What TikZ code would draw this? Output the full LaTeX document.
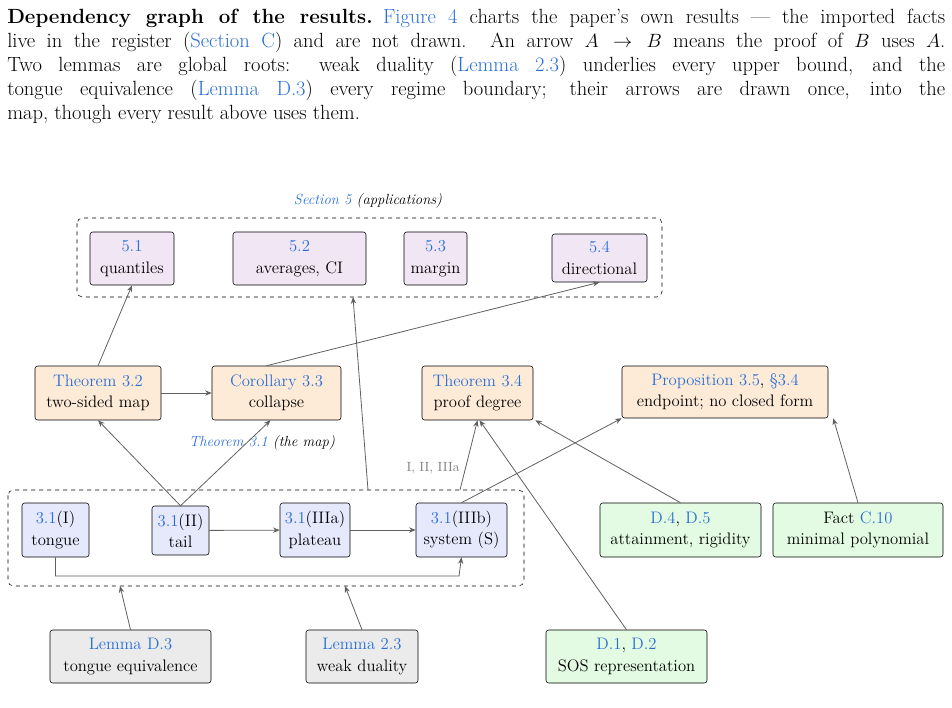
\documentclass[tikz,border=0pt]{standalone}
\usepackage{xcolor}
\usetikzlibrary{arrows.meta,calc}
\definecolor{lk}{HTML}{2A6FD6}
\definecolor{cpur}{HTML}{F1E6F3}
\definecolor{cora}{HTML}{FDEBD8}
\definecolor{cblu}{HTML}{E6E8FC}
\definecolor{cgre}{HTML}{E3FBE2}
\definecolor{cgra}{HTML}{EBEBEB}
\definecolor{arr}{HTML}{606060}
\newcommand{\lnk}[1]{\textcolor{lk}{#1}}
\begin{document}
\begin{tikzpicture}[x=0.75pt,y=-0.75pt,
  bx/.style={draw=black,rounded corners=2pt,align=center,inner sep=1pt,font=\fontsize{12.5}{16}\selectfont},
  pur/.style={bx,fill=cpur},ora/.style={bx,fill=cora},blu/.style={bx,fill=cblu},
  gre/.style={bx,fill=cgre},gra/.style={bx,fill=cgra},
  grp/.style={draw=black,dashed,rounded corners=4pt},
  ar/.style={draw=arr,-{Stealth[length=5pt,width=4pt]},semithick},
  lab/.style={font=\fontsize{11}{12}\selectfont\itshape}]
\useasboundingbox (0,0) rectangle (952,707);
\node[anchor=north west,text width=938*0.75pt,align=justify,inner sep=0pt,font=\fontsize{15.4}{18}\selectfont] (para) at (7,9)
{\textbf{Dependency graph of the results.}\enskip \lnk{Figure 4} charts the paper's own results --- the imported facts\linebreak live in the register (\lnk{Section C}) and are not drawn. An arrow $A\to B$ means the proof of $B$ uses $A$.\linebreak Two lemmas are global roots: weak duality (\lnk{Lemma 2.3}) underlies every upper bound, and the\linebreak tongue equivalence (\lnk{Lemma D.3}) every regime boundary; their arrows are drawn once, into the\linebreak map, though every result above uses them.};
% section 5
\draw[grp] (77,218) rectangle (662,297);
\coordinate (s5a) at (353,297);
\node[lab] (s5l) at (368,201) {\lnk{Section 5} (applications)};
\node[pur,minimum width=84*0.75pt,minimum height=53*0.75pt] (a1) at (132,258.5) {\lnk{5.1}\\quantiles};
\node[pur,minimum width=133*0.75pt,minimum height=53*0.75pt] (a2) at (299.5,258.5) {\lnk{5.2}\\averages, CI};
\node[pur,minimum width=63*0.75pt,minimum height=53*0.75pt] (a3) at (435.5,258.5) {\lnk{5.3}\\margin};
\node[pur,minimum width=95*0.75pt,minimum height=48*0.75pt] (a4) at (599.5,258) {\lnk{5.4}\\directional};
% middle row
\node[ora,minimum width=126*0.75pt,minimum height=54*0.75pt] (t32) at (98,393) {\lnk{Theorem 3.2}\\two-sided map};
\node[ora,minimum width=129*0.75pt,minimum height=54*0.75pt] (c33) at (276.5,393) {\lnk{Corollary 3.3}\\collapse};
\node[ora,minimum width=111*0.75pt,minimum height=54*0.75pt] (t34) at (477.5,393) {\lnk{Theorem 3.4}\\proof degree};
\node[ora,minimum width=206*0.75pt,minimum height=52*0.75pt] (p35) at (725,392) {\lnk{Proposition 3.5}, \lnk{\S3.4}\\endpoint; no closed form};
% theorem 3.1 group
\draw[grp] (8,490) rectangle (524,586);
\coordinate (g1) at (368,490);
\coordinate (g2) at (460,490);
\coordinate (g3) at (120,586);
\coordinate (g4) at (345,586);
\node[lab] (t31l) at (262,443) {\lnk{Theorem 3.1} (the map)};
\node[font=\fontsize{10}{11}\selectfont,text=gray] (iii) at (433,468) {I, II, IIIa};
\node[blu,minimum width=67*0.75pt,minimum height=54*0.75pt] (r1) at (55.5,530) {\lnk{3.1}(I)\\tongue};
\node[blu,minimum width=57*0.75pt,minimum height=49*0.75pt] (r2) at (180.5,530.5) {\lnk{3.1}(II)\\tail};
\node[blu,minimum width=70*0.75pt,minimum height=54*0.75pt] (r3) at (315,530) {\lnk{3.1}(IIIa)\\plateau};
\node[blu,minimum width=91*0.75pt,minimum height=54*0.75pt] (r4) at (461.5,530) {\lnk{3.1}(IIIb)\\system (S)};
\node[gre,minimum width=161*0.75pt,minimum height=54*0.75pt] (d45) at (680.5,530) {\lnk{D.4}, \lnk{D.5}\\attainment, rigidity};
\node[gre,minimum width=170*0.75pt,minimum height=54*0.75pt] (c10) at (858,530) {Fact \lnk{C.10}\\minimal polynomial};
% bottom
\node[gra,minimum width=161*0.75pt,minimum height=53*0.75pt] (ld3) at (130.5,656.5) {\lnk{Lemma D.3}\\tongue equivalence};
\node[gra,minimum width=112*0.75pt,minimum height=53*0.75pt] (l23) at (362,656.5) {\lnk{Lemma 2.3}\\weak duality};
\node[gre,minimum width=161*0.75pt,minimum height=53*0.75pt] (d12) at (626.5,656.5) {\lnk{D.1}, \lnk{D.2}\\SOS representation};
% arrows
\draw[ar] (t32.north) -- (a1.south);
\draw[ar] (t32) -- (c33);
\draw[ar] ($(c33.north)+(-10,0)$) -- (a4.south);
\draw[ar] (g1) -- (s5a);
\draw[ar] (r2.north) -- (t32.south);
\draw[ar] (r2.north) -- ($(c33.south)+(-6,0)$);
\draw[ar] (g2) -- (t34.south);
\draw[ar] (r4.north) -- (p35.south west);
\draw[ar] (d45.north) -- ($(t34.south east)+(2,0)$);
\draw[ar] (c10.north) -- ($(p35.south east)+(5,0)$);
\draw[ar] (d12.north) -- ($(t34.south)+(2,0)$);
\draw[ar] (r2) -- (r3);
\draw[ar] (r3) -- (r4);
\draw[ar] (r1.south) |- (459,576) -- (r4.south);
\draw[ar] (ld3.north) -- (g3);
\draw[ar] (l23.north) -- (g4);
\end{tikzpicture}
\end{document}
